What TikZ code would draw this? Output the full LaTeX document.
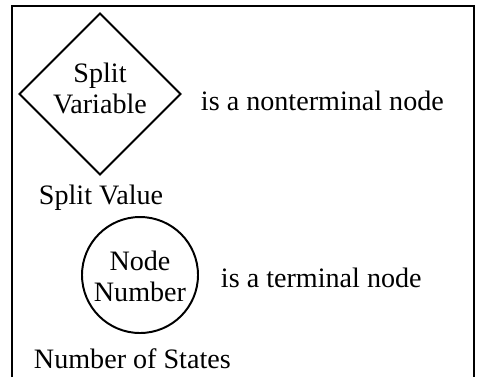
\documentclass[tikz,border=0pt]{standalone}
\usepackage{fontspec}
\setmainfont{Liberation Serif}
\usetikzlibrary{shapes.geometric}
\tikzset{
    every node/.style={font=\fontsize{20}{22}\selectfont, inner sep=0pt}
}
\tikzset{
    shape box/.style={draw, line width=1.4pt, align=center}
}
\begin{document}
\begin{tikzpicture}[line width=1.4pt]
	\useasboundingbox (0cm, 0cm) rectangle (12.05cm, -9.425cm);
	\draw (0.29cm, -9.425cm) -- (0.29cm, -0.15cm) -- (11.85cm, -0.15cm) -- (11.85cm, -9.425cm);

	\node (split) [shape box, diamond, minimum width=4.05cm, minimum height=4.05cm] at (2.5cm, -2.35cm) {};
	\node (splittext) [align=center] at (2.5cm, -2.22cm) {Split\\Variable};
	\node (nonterm) [anchor=base west] at (5.0cm, -2.75cm) {is a nonterminal node};
	\node (value) [anchor=base west] at (0.95cm, -5.1cm) {Split Value};

	\node (leaf) [shape box, circle, minimum size=2.9cm] at (3.5cm, -6.875cm) {};
	\node (leaftext) [align=center] at (3.5cm, -6.9cm) {Node\\Number};
	\node (term) [anchor=base west] at (5.5cm, -7.175cm) {is a terminal node};
	\node (states) [anchor=base west] at (0.825cm, -9.2cm) {Number of States};
\end{tikzpicture}
\end{document}
